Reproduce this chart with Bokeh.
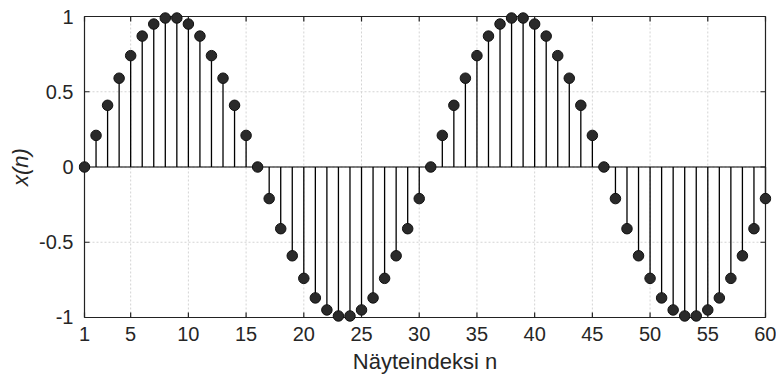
from bokeh.plotting import figure
from bokeh.models import Range1d, FixedTicker, ColumnDataSource
from bokeh.embed import file_html
from bokeh.resources import INLINE

# ---- data ----
n = list(range(1, 61))
x_n = [0.00, 0.21, 0.41, 0.59, 0.74, 0.87, 0.95, 0.99, 0.99, 0.95, 0.87, 0.74, 0.59, 0.41, 0.21,
       0.00, -0.21, -0.41, -0.59, -0.74, -0.87, -0.95, -0.99, -0.99, -0.95, -0.87, -0.74, -0.59, -0.41, -0.21,
       0.00, 0.21, 0.41, 0.59, 0.74, 0.87, 0.95, 0.99, 0.99, 0.95, 0.87, 0.74, 0.59, 0.41, 0.21,
       0.00, -0.21, -0.41, -0.59, -0.74, -0.87, -0.95, -0.99, -0.99, -0.95, -0.87, -0.74, -0.59, -0.41, -0.21]
x_ticks = [1, 5, 10, 15, 20, 25, 30, 35, 40, 45, 50, 55, 60]
y_ticks = [-1, -0.5, 0, 0.5, 1]
y_tick_labels = {-1: "-1", -0.5: "-0.5", 0: "0", 0.5: "0.5", 1: "1"}
x_label = "Näyteindeksi n"
y_label = "x(n)"

FONT = "Liberation Sans"
FS_TICK = "20px"
FS_LABEL = "22px"
AX_COLOR = "#222222"
TXT_COLOR = "#262626"

x_lo, x_hi = x_ticks[0], x_ticks[-1]
y_lo, y_hi = y_ticks[0], y_ticks[-1]

W, H = 776, 378
BL, BR, BT, BB = 78, 5, 10, 55
xr = (x_lo - 0.52, x_hi + 0.52)
yr = (y_lo - 0.04, y_hi + 0.04)

p = figure(width=W, height=H, output_backend="svg", toolbar_location=None,
           x_range=Range1d(*xr), y_range=Range1d(*yr),
           min_border_left=BL, min_border_right=BR, min_border_top=BT, min_border_bottom=BB)
p.outline_line_color = None
p.grid.visible = False
p.background_fill_color = "white"
p.border_fill_color = "white"

# pixel -> data conversions for tick mark lengths
px_x = (xr[1] - xr[0]) / (W - BL - BR)
px_y = (yr[1] - yr[0]) / (H - BT - BB)
TL = 5  # tick length in px

# grid lines inside the box
p.segment(x0=x_ticks, y0=[y_lo] * len(x_ticks), x1=x_ticks, y1=[y_hi] * len(x_ticks),
          line_color="#d4d4d4", line_width=1, line_dash="2 2")
p.segment(x0=[x_lo] * len(y_ticks), y0=y_ticks, x1=[x_hi] * len(y_ticks), y1=y_ticks,
          line_color="#d4d4d4", line_width=1, line_dash="2 2")

# baseline
p.segment(x0=[n[0]], y0=[0], x1=[n[-1]], y1=[0], line_color="black", line_width=1.2)

src = ColumnDataSource(dict(n=n, x=x_n, zero=[0] * len(n)))
p.segment(x0="n", y0="zero", x1="n", y1="x", source=src, line_color="black", line_width=1.3)

# box
p.segment(x0=[x_lo, x_lo, x_lo, x_hi], y0=[y_lo, y_hi, y_lo, y_lo],
          x1=[x_hi, x_hi, x_lo, x_hi], y1=[y_lo, y_hi, y_hi, y_hi],
          line_color=AX_COLOR, line_width=1.2)
# inward tick marks (bottom, top, left, right)
p.segment(x0=x_ticks, y0=[y_lo] * len(x_ticks), x1=x_ticks, y1=[y_lo + TL * px_y] * len(x_ticks),
          line_color=AX_COLOR, line_width=1.2)
p.segment(x0=x_ticks, y0=[y_hi] * len(x_ticks), x1=x_ticks, y1=[y_hi - TL * px_y] * len(x_ticks),
          line_color=AX_COLOR, line_width=1.2)
p.segment(x0=[x_lo] * len(y_ticks), y0=y_ticks, x1=[x_lo + TL * px_x] * len(y_ticks), y1=y_ticks,
          line_color=AX_COLOR, line_width=1.2)
p.segment(x0=[x_hi] * len(y_ticks), y0=y_ticks, x1=[x_hi - TL * px_x] * len(y_ticks), y1=y_ticks,
          line_color=AX_COLOR, line_width=1.2)

p.scatter("n", "x", source=src, size=10.5, fill_color="#2a2a2a", line_color="#111111", line_width=1)

for ax, ticks in ((p.xaxis[0], x_ticks), (p.yaxis[0], y_ticks)):
    ax.ticker = FixedTicker(ticks=ticks)
    ax.axis_line_color = None
    ax.major_tick_line_color = None
    ax.minor_tick_line_color = None
    ax.major_tick_in = 0
    ax.major_tick_out = 0
    ax.major_label_text_font = FONT
    ax.major_label_text_font_size = FS_TICK
    ax.major_label_text_color = TXT_COLOR
    ax.axis_label_text_font = FONT
    ax.axis_label_text_font_size = FS_LABEL
    ax.axis_label_text_color = TXT_COLOR

p.xaxis[0].major_label_standoff = 3
p.xaxis[0].axis_label = x_label
p.xaxis[0].axis_label_text_font_style = "normal"
p.xaxis[0].axis_label_standoff = 5

p.yaxis[0].major_label_standoff = 5
p.yaxis[0].major_label_overrides = y_tick_labels
p.yaxis[0].axis_label = y_label
p.yaxis[0].axis_label_text_font_style = "italic"
p.yaxis[0].axis_label_standoff = 3

open("out.html", "w").write(file_html(p, INLINE))
